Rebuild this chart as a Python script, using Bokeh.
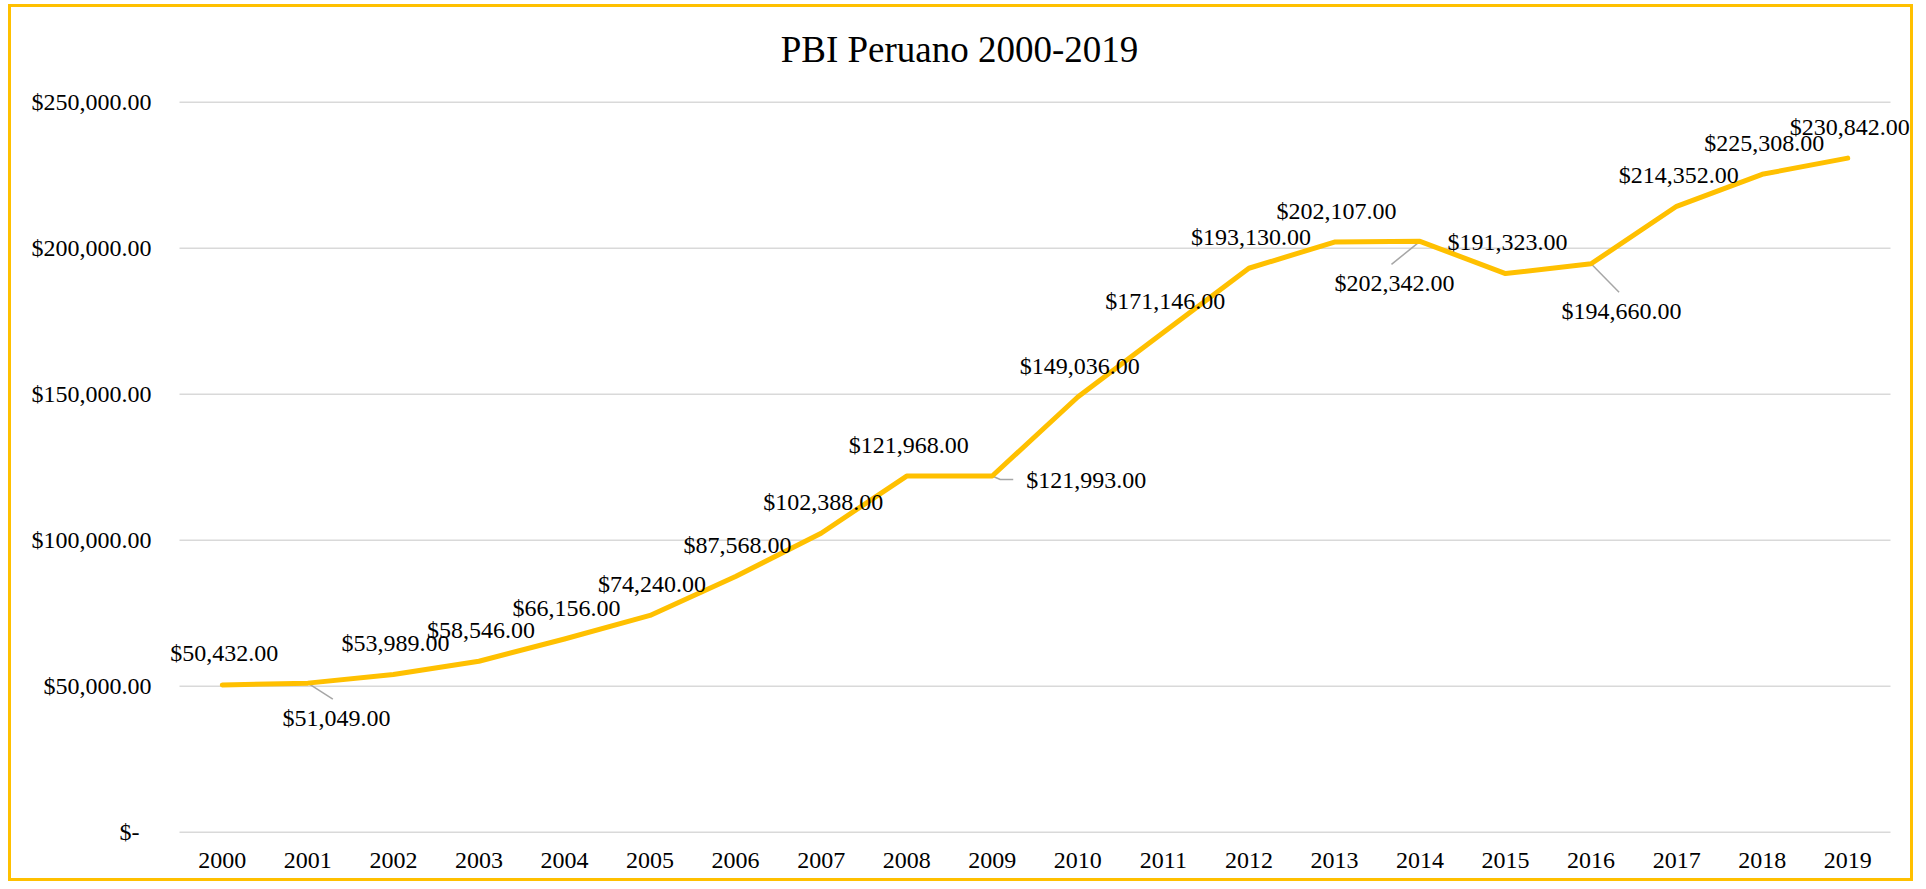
from bokeh.plotting import figure
from bokeh.models import ColumnDataSource, LabelSet, Label, FixedTicker, Range1d
from bokeh.embed import file_html
from bokeh.resources import INLINE
from bokeh.core.properties import value

# ---------------- data ----------------
title_text = "PBI Peruano 2000-2019"
years = ["2000", "2001", "2002", "2003", "2004", "2005", "2006", "2007", "2008", "2009",
         "2010", "2011", "2012", "2013", "2014", "2015", "2016", "2017", "2018", "2019"]
pbi = [50432, 51049, 53989, 58546, 66156, 74240, 87568, 102388, 121968, 121993,
       149036, 171146, 193130, 202107, 202342, 191323, 194660, 214352, 225308, 230842]
y_ticks = [0, 50000, 100000, 150000, 200000, 250000]
y_tick_labels = ["$-\u00a0\u00a0", "$50,000.00", "$100,000.00", "$150,000.00", "$200,000.00", "$250,000.00"]

# ---------------- layout / style ----------------
FONT = "Liberation Serif"
W, H = 1905, 877                 # canvas size (inside a 3px border)
ML, MR, MT, MB = 154, 3, 0, 50   # frame borders (frame is larger than the plot area
                                 # so that data labels and title are not clipped)
# plot area (where gridlines run) in canvas coordinates
PA_L, PA_R, PA_T, PA_B = 168, 1879, 94.7, 824.7

n = len(years)
px_x = (PA_R - PA_L) / n
px_y = (PA_B - PA_T) / (y_ticks[-1] - y_ticks[0])
x_start = -0.5 - (PA_L - ML) / px_x
x_end = n - 0.5 + ((W - MR) - PA_R) / px_x
y_start = y_ticks[0] - ((H - MB) - PA_B) / px_y
y_end = y_ticks[-1] + (PA_T - MT) / px_y

# data-label offsets in screen px (dx right, dy up)
label_dx = [2] * n
label_dy = [31.5] * n
special = {1: (28.6, -34.6), 9: (94, -4.5), 14: (-25.5, -42), 16: (30.4, -47.7)}
for k, (a, b) in special.items():
    label_dx[k] = a
    label_dy[k] = b

# leader lines: index -> list of screen-px offsets from the point
leaders = {1: [(0, 0), (25, -16)],
           9: [(0, 0), (8, -3.5), (21, -3.5)],
           14: [(0, 0), (-28.5, -23)],
           16: [(0, 0), (28, -28.4)]}

p = figure(width=W, height=H, output_backend="svg", toolbar_location=None,
           x_range=Range1d(x_start, x_end), y_range=Range1d(y_start, y_end),
           min_border_left=ML, min_border_right=MR, min_border_top=MT, min_border_bottom=MB,
           title=None)
p.styles = {"border": "3px solid #FFC000", "margin-left": "8px", "margin-top": "4px"}
p.background_fill_color = "white"
p.border_fill_color = "white"
p.outline_line_color = None

xi = list(range(n))
p.xaxis.ticker = FixedTicker(ticks=xi)
p.xaxis.major_label_overrides = {i: y for i, y in zip(xi, years)}
p.yaxis.ticker = FixedTicker(ticks=y_ticks)
p.yaxis.major_label_overrides = {t: l for t, l in zip(y_ticks, y_tick_labels)}
for ax in (p.xaxis, p.yaxis):
    ax.axis_line_color = None
    ax.major_tick_line_color = None
    ax.minor_tick_line_color = None
    ax.major_tick_out = 0
    ax.major_tick_in = 0
    ax.major_label_text_font = FONT
    ax.major_label_text_font_size = "24px"
    ax.major_label_text_color = "black"
p.yaxis.major_label_standoff = 14   # labels end ~27px left of the plot area
p.xaxis.major_label_standoff = 18

p.xgrid.visible = False
p.ygrid.visible = False
# horizontal gridlines restricted to the plot area
p.segment(x0=[-0.5] * len(y_ticks), x1=[n - 0.5] * len(y_ticks), y0=y_ticks, y1=y_ticks,
          line_color="#D9D9D9", line_width=1.5)

# leader lines
lx, ly = [], []
for k, pts in leaders.items():
    lx.append([k + dx / px_x for dx, dy in pts])
    ly.append([pbi[k] + dy / px_y for dx, dy in pts])
p.multi_line(lx, ly, line_color="#A6A6A6", line_width=1.5)

# main line
p.line(xi, pbi, line_color="#FFC000", line_width=5, line_cap="round", line_join="round")

src = ColumnDataSource(dict(x=xi, y=pbi, text=[f"${v:,.2f}" for v in pbi],
                            dx=label_dx, dy=label_dy))
p.add_layout(LabelSet(x="x", y="y", text="text", x_offset="dx", y_offset="dy", source=src,
                      text_font=value(FONT), text_font_size=value("24px"),
                      text_align="center", text_baseline="middle", text_color="black"))

# title, centered over the whole chart (screen units relative to the frame)
p.add_layout(Label(x=959 - 11 - ML, y=(H - MB) - (60 - 7) + 11, x_units="screen", y_units="screen",
                   text=title_text, text_font=FONT, text_font_size="37px", text_color="black",
                   text_align="center", text_baseline="alphabetic"))

open("out.html", "w").write(file_html(p, INLINE, title=title_text))
